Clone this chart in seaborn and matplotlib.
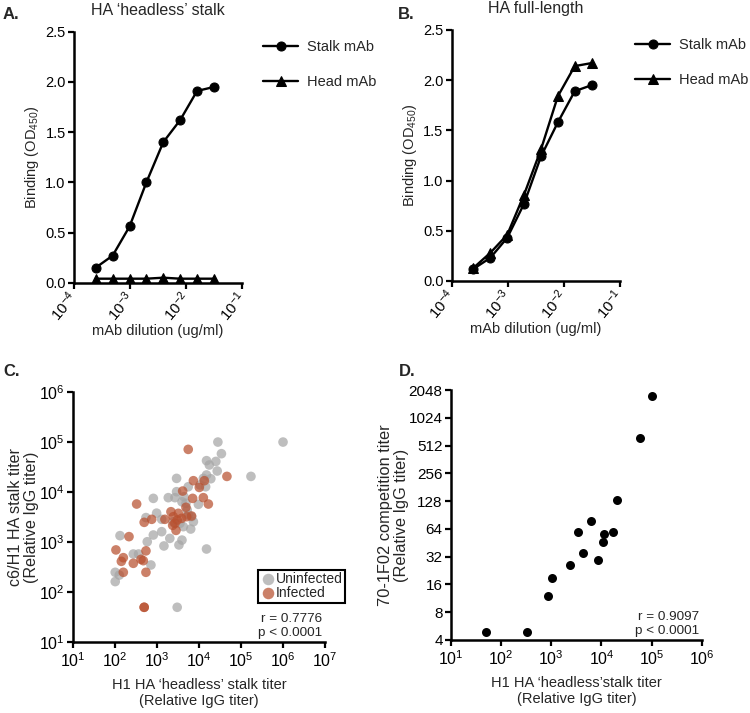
import numpy as np
import pandas as pd
import matplotlib
matplotlib.use('Agg')
import matplotlib.pyplot as plt
import matplotlib.ticker as mticker
import seaborn as sns

# panels A/B: ELISA binding curves
dilution = [0.000244, 0.000488, 0.000977, 0.00195, 0.0039, 0.0078, 0.0156, 0.03125]
stalk_headless = [0.15, 0.27, 0.56, 1.00, 1.40, 1.62, 1.91, 1.95]
head_headless = [0.04, 0.04, 0.04, 0.04, 0.05, 0.04, 0.04, 0.04]
stalk_full = [0.12, 0.23, 0.43, 0.77, 1.24, 1.58, 1.89, 1.95]
head_full = [0.13, 0.28, 0.46, 0.86, 1.31, 1.84, 2.14, 2.17]

# panel C: headless stalk titer vs c6/H1 stalk titer
uninf_x = [1000000, 28000, 34000, 172000, 25000, 15000, 17500, 27000, 15000, 19000,
           12600, 2900, 5500, 10500, 14300, 810, 1840, 2650, 2900, 4350,
           3900, 9600, 540, 970, 1280, 810, 1280, 580, 2000, 1450,
           3300, 3900, 6300, 7300, 15000, 130, 270, 360, 710, 100,
           125, 100, 3000, 3500, 2400, 5200, 6600, 4200, 4850, 5500]
uninf_y = [100000, 100000, 58600, 20600, 41000, 42500, 34800, 26400, 22000, 18500,
           18800, 18800, 12800, 13900, 12800, 7500, 7750, 7750, 10200, 8100,
           6400, 5700, 3100, 3800, 2860, 1390, 1620, 1020, 1190, 840,
           880, 1100, 1830, 2560, 730, 1350, 580, 580, 350, 250,
           220, 163, 50, 2380, 2560, 4400, 3230, 2040, 5970, 3490]
inf_x = [5500, 46000, 7300, 13300, 10100, 12600, 16600, 7000, 4050, 324,
         740, 490, 1530, 2130, 2430, 3190, 2650, 3020, 3830, 4850,
         5040, 6600, 2340, 2810, 213, 104, 540, 156, 140, 270,
         411, 467, 540, 156, 490, 490]
inf_y = [71400, 20600, 16900, 16900, 12400, 7750, 5780, 7500, 10500, 5780,
         2860, 2490, 2860, 4060, 3230, 3770, 2380, 2770, 2990, 4970,
         3230, 3330, 2170, 1720, 1290, 700, 670, 490, 414, 378,
         454, 427, 250, 250, 50, 50]

# panel D: headless stalk titer vs 70-1F02 competition titer
d_x = [103000, 58000, 20000, 6200, 3470, 11300, 17000, 10700, 4270, 8700, 2330, 1030, 850, 50, 325]
d_y = [1760, 626, 132, 77, 58.5, 56, 59.6, 46, 34.8, 29.4, 26, 18.6, 12, 4.9, 4.9]

sns.set_style('ticks')
plt.rcParams['font.family'] = ['Liberation Sans', 'DejaVu Sans']
plt.rcParams['mathtext.fontset'] = 'custom'
plt.rcParams['mathtext.rm'] = 'Liberation Sans'
plt.rcParams['mathtext.it'] = 'Liberation Sans'
plt.rcParams['font.size'] = 10
plt.rcParams['axes.linewidth'] = 1.8
plt.rcParams['xtick.major.width'] = 1.6
plt.rcParams['ytick.major.width'] = 1.6
plt.rcParams['xtick.major.size'] = 4.5
plt.rcParams['ytick.major.size'] = 4.5
plt.rcParams['xtick.major.pad'] = 2
plt.rcParams['ytick.major.pad'] = 1.5
plt.rcParams['xtick.color'] = 'black'
plt.rcParams['ytick.color'] = 'black'
plt.rcParams['axes.edgecolor'] = 'black'

fig = plt.figure(figsize=(7.5, 7.13), dpi=100)

axA = fig.add_axes([0.0987, 0.6035, 0.2244, 0.352])
axB = fig.add_axes([0.6023, 0.606, 0.2244, 0.352])
axC = fig.add_axes([0.0977, 0.0992, 0.3356, 0.351])
axD = fig.add_axes([0.6013, 0.1024, 0.3343, 0.3506])


def dec_fmt(v, pos):
    return r'$10^{%d}$' % int(round(np.log10(v)))


def binding_panel(ax, stalk, head, title, leg_x):
    sns.lineplot(x=dilution, y=stalk, marker='o', color='black', lw=1.7, markersize=6.5,
                 markeredgecolor='black', label='Stalk mAb', ax=ax)
    sns.lineplot(x=dilution, y=head, marker='^', color='black', lw=1.7, markersize=6.5,
                 markeredgecolor='black', label='Head mAb', ax=ax)
    ax.set_xscale('log')
    ax.set_xlim(1e-4, 1e-1)
    ax.set_ylim(0, 2.5)
    ax.set_xticks([1e-4, 1e-3, 1e-2, 1e-1])
    ax.xaxis.set_major_formatter(mticker.FuncFormatter(dec_fmt))
    ax.xaxis.set_minor_locator(mticker.NullLocator())
    ax.set_yticks([0, 0.5, 1.0, 1.5, 2.0, 2.5])
    ax.yaxis.set_major_formatter(mticker.FormatStrFormatter('%.1f'))
    ax.tick_params(axis='y', labelsize=10.5)
    ax.tick_params(axis='x', labelsize=11, pad=4)
    for lab in ax.get_xticklabels():
        lab.set_rotation(50)
        lab.set_ha('right')
        lab.set_va('center')
        lab.set_rotation_mode('anchor')
    ax.set_xlabel('mAb dilution (ug/ml)', fontsize=10.5, labelpad=0)
    ax.set_ylabel('Binding (OD$_{450}$)', fontsize=10.5, labelpad=3)
    ax.set_title(title, fontsize=11.5, pad=12)
    sns.despine(ax=ax)
    ax.legend(loc='upper left', bbox_to_anchor=(leg_x, 1.02), frameon=False, fontsize=10.5,
              handlelength=2.4, handletextpad=0.6, labelspacing=1.45)


binding_panel(axA, stalk_headless, head_headless, 'HA \u2018headless\u2019 stalk', 1.046)
binding_panel(axB, stalk_full, head_full, 'HA full-length', 1.012)

# panel C
dfc = pd.DataFrame({
    'x': uninf_x + inf_x,
    'y': uninf_y + inf_y,
    'group': ['Uninfected'] * len(uninf_x) + ['Infected'] * len(inf_x),
})
sns.scatterplot(data=dfc, x='x', y='y', hue='group',
                palette={'Uninfected': '#a6a6a6', 'Infected': '#b8502f'},
                s=48, alpha=0.72, linewidth=0, ax=axC)
axC.set_xscale('log')
axC.set_yscale('log')
axC.set_xlim(10, 1e7)
axC.set_ylim(10, 1e6)
axC.set_xticks([10 ** k for k in range(1, 8)])
axC.set_yticks([10 ** k for k in range(1, 7)])
axC.xaxis.set_major_formatter(mticker.FuncFormatter(dec_fmt))
axC.yaxis.set_major_formatter(mticker.FuncFormatter(dec_fmt))
axC.xaxis.set_minor_locator(mticker.NullLocator())
axC.yaxis.set_minor_locator(mticker.NullLocator())
axC.tick_params(labelsize=11.5)
axC.set_xlabel('H1 HA \u2018headless\u2019 stalk titer\n(Relative IgG titer)', fontsize=10.5,
               labelpad=6, linespacing=1.15)
axC.set_ylabel('c6/H1 HA stalk titer\n(Relative IgG titer)', fontsize=11.6, labelpad=0,
               linespacing=1.08)
sns.despine(ax=axC)
sns.move_legend(axC, 'upper left', bbox_to_anchor=(0.735, 0.29), title=None, frameon=True,
                fontsize=10, handletextpad=0.05, handlelength=1.0, borderpad=0.2,
                labelspacing=0.0, fancybox=False, borderaxespad=0, markerscale=1.2)
legC = axC.get_legend()
legC.get_frame().set_edgecolor('black')
legC.get_frame().set_linewidth(1.5)
legC.get_frame().set_alpha(1)
axC.text(0.99, 0.012, 'r = 0.7776\np < 0.0001', transform=axC.transAxes, ha='right',
         va='bottom', fontsize=9.7, linespacing=1.25)

# panel D
sns.scatterplot(x=d_x, y=d_y, color='black', s=42, linewidth=0, ax=axD)
axD.set_xscale('log')
axD.set_yscale('log', base=2)
axD.set_xlim(10, 1e6)
axD.set_ylim(4, 2048)
axD.set_xticks([10 ** k for k in range(1, 7)])
axD.xaxis.set_major_formatter(mticker.FuncFormatter(dec_fmt))
axD.xaxis.set_minor_locator(mticker.NullLocator())
yt = [4, 8, 16, 32, 64, 128, 256, 512, 1024, 2048]
axD.set_yticks(yt)
axD.set_yticklabels([str(v) for v in yt])
axD.yaxis.set_minor_locator(mticker.NullLocator())
axD.tick_params(axis='x', labelsize=11.5)
axD.tick_params(axis='y', labelsize=11)
axD.set_xlabel('H1 HA \u2018headless\u2019stalk titer\n(Relative IgG titer)', fontsize=10.5,
               labelpad=6, linespacing=1.15)
axD.set_ylabel('70-1F02 competition titer\n(Relative IgG titer)', fontsize=11.8, labelpad=0,
               linespacing=1.08)
sns.despine(ax=axD)
axD.text(0.99, 0.012, 'r = 0.9097\np < 0.0001', transform=axD.transAxes, ha='right',
         va='bottom', fontsize=9.7, linespacing=1.25)

for lbl, (px, py) in zip(['A.', 'B.', 'C.', 'D.'],
                         [(0.004, 0.99), (0.530, 0.99), (0.004, 0.489), (0.532, 0.489)]):
    fig.text(px, py, lbl, fontsize=12, fontweight='bold', ha='left', va='top')

fig.savefig('out.png', dpi=100)
